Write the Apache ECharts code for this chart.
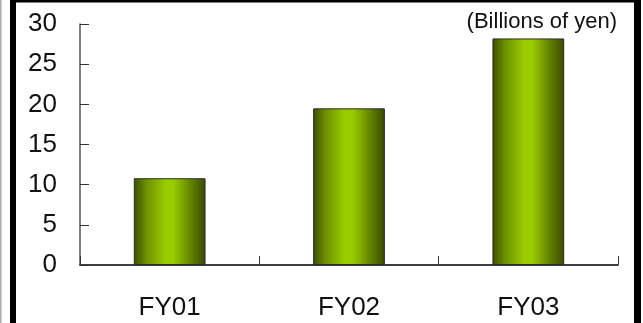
<!DOCTYPE html>
<html>
<head>
<meta charset="utf-8">
<title>Billions of yen by fiscal year</title>
<script src="https://cdn.jsdelivr.net/npm/echarts@6/dist/echarts.min.js"></script>
<style>
  html, body { margin: 0; padding: 0; background: #fff; }
  #chart { width: 643px; height: 323px; }
</style>
</head>
<body>
<div id="chart"></div>
<script>
// Fiscal years and amounts (billions of yen)
const categories = ['FY01', 'FY02', 'FY03'];
const values = [10.8, 19.5, 28.2];
const yTicks = { min: 0, max: 30, interval: 5 };
const unitLabel = '(Billions of yen)';

const FONT = '"Liberation Sans Narrow", "Arial Narrow", "Liberation Sans", sans-serif';

const chart = echarts.init(document.getElementById('chart'), null, { renderer: 'canvas' });

// cylinder-like shading across each bar
const barFill = new echarts.graphic.LinearGradient(0, 0, 1, 0, [
  { offset: 0.0, color: '#3d5000' },
  { offset: 0.18, color: '#6f9200' },
  { offset: 0.45, color: '#9acd00' },
  { offset: 0.55, color: '#99cc00' },
  { offset: 0.82, color: '#5e7c00' },
  { offset: 1.0, color: '#394a00' }
]);

chart.setOption({
  animation: false,
  backgroundColor: '#ffffff',
  grid: { left: 80, right: 25, top: 24, bottom: 58, containLabel: false },
  xAxis: {
    type: 'category',
    data: categories,
    boundaryGap: true,
    axisLine: { show: true, lineStyle: { color: '#000', width: 1.5 } },
    axisTick: { show: true, inside: true, length: 9, lineStyle: { color: '#333', width: 1 } },
    axisLabel: { color: '#111', fontFamily: FONT, fontSize: 26, margin: 30 },
    splitLine: { show: false }
  },
  yAxis: {
    type: 'value',
    min: yTicks.min,
    max: yTicks.max,
    interval: yTicks.interval,
    axisLine: { show: true, lineStyle: { color: '#555', width: 1.5 } },
    axisTick: { show: true, inside: true, length: 9, lineStyle: { color: '#333', width: 1 } },
    axisLabel: { color: '#111', fontFamily: FONT, fontSize: 26, margin: 23 },
    splitLine: { show: false }
  },
  series: [{
    type: 'bar',
    data: values,
    barWidth: '40%',
    itemStyle: { color: barFill, borderColor: '#2a2a2a', borderWidth: 1 }
  }],
  graphic: [
    // frame edges
    { type: 'rect', shape: { x: 0, y: 0, width: 1.5, height: 323 }, style: { fill: '#aaaaaa' }, silent: true },
    { type: 'rect', shape: { x: 10, y: 0, width: 6, height: 323 }, style: { fill: '#000' }, silent: true },
    { type: 'rect', shape: { x: 10, y: 0, width: 631, height: 2.5 }, style: { fill: '#000' }, silent: true },
    { type: 'rect', shape: { x: 634, y: 0, width: 7, height: 323 }, style: { fill: '#000' }, silent: true },
    {
      type: 'text',
      right: 26,
      top: 11,
      style: { text: unitLabel, fontFamily: FONT, fontSize: 22, fill: '#111' },
      silent: true
    }
  ]
});
</script>
</body>
</html>
